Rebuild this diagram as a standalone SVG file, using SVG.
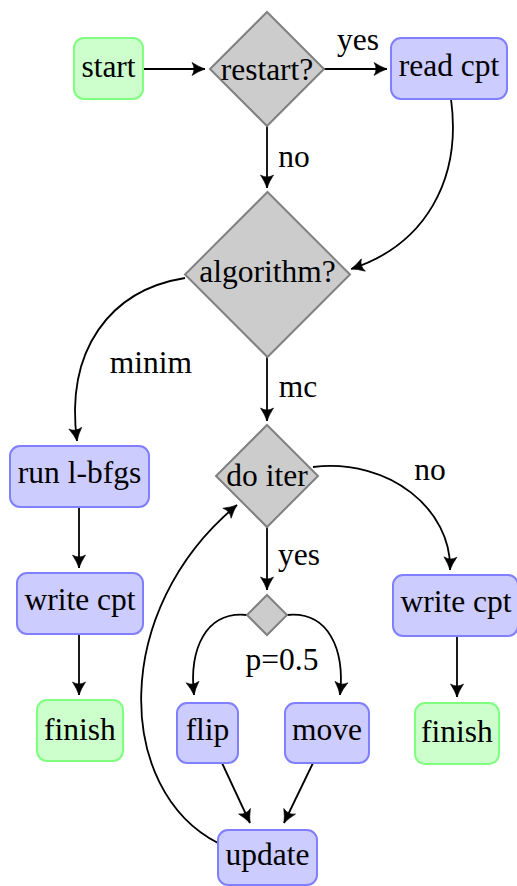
<svg xmlns="http://www.w3.org/2000/svg" width="517" height="886" viewBox="0 0 517 886">
<defs>
<marker id="ah" viewBox="-15 -8 17 16" refX="0" refY="0" markerWidth="17" markerHeight="16" markerUnits="userSpaceOnUse" orient="auto">
<path d="M 0 0 Q -6 -2 -13 -6.5 Q -9 0 -13 6.5 Q -6 2 0 0 Z" fill="#000" stroke="#000" stroke-width="0.6" stroke-linejoin="round"/>
</marker>
<style>
text{font-family:'Liberation Serif','DejaVu Serif',serif;font-size:31.5px;fill:#000;text-anchor:middle}
.g{fill:#ccffcc;stroke:#80ff80;stroke-width:2}
.b{fill:#ccccff;stroke:#8080ff;stroke-width:2}
.d{fill:#cccccc;stroke:#808080;stroke-width:2}
.c{fill:none;stroke:#000;stroke-width:1.8;marker-end:url(#ah)}
</style>
</defs>
<rect width="517" height="886" fill="#fff"/>
<g id="connectors">
<path class="c" d="M 143 69 L 205 69"/>
<path class="c" d="M 324 69 L 387 69"/>
<path class="c" d="M 267 126 L 267 188"/>
<path class="c" d="M 451 99 C 462 180, 425 245, 351 269"/>
<path class="c" d="M 185 278 C 110 290, 65 350, 77 441"/>
<path class="c" d="M 267 357 L 267 421"/>
<path class="c" d="M 79 507 L 79 568"/>
<path class="c" d="M 79 634 L 79 695"/>
<path class="c" d="M 313 467 C 390 458, 452 510, 450 570"/>
<path class="c" d="M 457 636 L 457 697"/>
<path class="c" d="M 267 527 L 267 590"/>
<path class="c" d="M 247 615 C 205 611, 189 650, 194 695"/>
<path class="c" d="M 287 615 C 329 611, 345 650, 340 695"/>
<path class="c" d="M 222 763 L 250 823"/>
<path class="c" d="M 313 763 L 284 823"/>
<path class="c" d="M 218 843 C 115 790, 110 610, 237 505"/>
<text x="358" y="50">yes</text>
<text x="294" y="167">no</text>
<text x="151" y="373">minim</text>
<text x="298" y="397">mc</text>
<text x="299" y="565">yes</text>
<text x="430" y="480">no</text>
<text x="282" y="670">p=0.5</text>
</g>
<g id="start"><rect class="g" x="74" y="38" width="69" height="61" rx="10"/><text x="108.5" y="77">start</text></g>
<g id="restart"><polygon class="d" points="267,12 324,69 267,126 210,69"/><text x="267" y="80">restart?</text></g>
<g id="readcpt"><rect class="b" x="391" y="38" width="116" height="61" rx="10"/><text x="449" y="76">read cpt</text></g>
<g id="algorithm"><polygon class="d" points="267.5,192 350,274.5 267.5,357 185,274.5"/><text x="267.5" y="282">algorithm?</text></g>
<g id="runlbfgs"><rect class="b" x="10" y="446" width="139" height="61" rx="10"/><text x="79.5" y="483">run l-bfgs</text></g>
<g id="writecpt1"><rect class="b" x="17" y="573" width="126" height="61" rx="10"/><text x="80" y="610">write cpt</text></g>
<g id="finish1"><rect class="g" x="37" y="700" width="86" height="61" rx="10"/><text x="80" y="740">finish</text></g>
<g id="doiter"><polygon class="d" points="267,425 318,476 267,527 216,476"/><text x="267" y="486">do iter</text></g>
<g id="choice"><polygon class="d" points="267,595 287,615 267,635 247,615"/></g>
<g id="writecpt2"><rect class="b" x="393" y="575" width="125" height="61" rx="10"/><text x="456" y="612">write cpt</text></g>
<g id="finish2"><rect class="g" x="415" y="703" width="84" height="61" rx="10"/><text x="457" y="742">finish</text></g>
<g id="flip"><rect class="b" x="177" y="703" width="61" height="60" rx="10"/><text x="207.5" y="740">flip</text></g>
<g id="move"><rect class="b" x="285" y="703" width="84" height="60" rx="10"/><text x="327" y="740">move</text></g>
<g id="update"><rect class="b" x="218" y="830" width="99" height="55" rx="10"/><text x="267.5" y="865">update</text></g>
</svg>
